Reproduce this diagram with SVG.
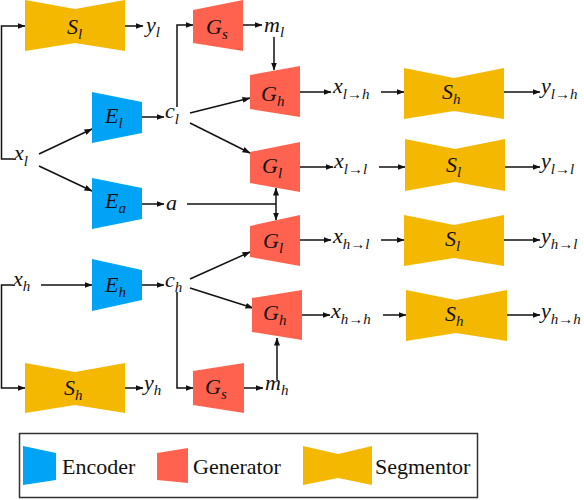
<svg xmlns="http://www.w3.org/2000/svg" width="584" height="500" viewBox="0 0 584 500">
<defs>
<marker id="ah" markerUnits="userSpaceOnUse" markerWidth="8" markerHeight="6" refX="7.5" refY="3" orient="auto">
<path d="M0,0 L8,3 L0,6 z" fill="#111"/>
</marker>
</defs>
<style>
.enc{fill:#00A3F5}
.gen{fill:#FF6350}
.seg{fill:#F5B800}
.c path{fill:none;stroke:#111;stroke-width:1.5;marker-end:url(#ah)}
.c .nm{marker-end:none}
.m{font-family:'Liberation Serif','Times New Roman',serif;font-style:italic;font-size:22px;fill:#111}
.s{font-size:15px}
.lg{font-family:'Liberation Serif','Times New Roman',serif;font-size:22px;fill:#111}
</style>
<rect width="584" height="500" fill="#fff"/>

<g id="connectors" class="c">
<path d="M14,159 H1.5 V26 H25"/>
<path d="M125,26 H143"/>
<path d="M39,154 L92,129"/>
<path d="M39,166 L92,191"/>
<path d="M142,117 H164"/>
<path d="M177,107 V25 H193"/>
<path d="M243,25 H262"/>
<path d="M274,37 V70"/>
<path d="M190,113 L250,98"/>
<path d="M190,123 L250,153"/>
<path d="M142,204 H164"/>
<path class="nm" d="M187,204 H276"/>
<path d="M276,204 V188"/>
<path d="M276,204 V220"/>
<path d="M300,92 H331"/>
<path d="M381,92 H404"/>
<path d="M504,92 H540"/>
<path d="M300,167 H333"/>
<path d="M379,167 H405"/>
<path d="M505,167 H540"/>
<path d="M300,240 H331"/>
<path d="M381,240 H404"/>
<path d="M504,240 H540"/>
<path d="M302,315 H330"/>
<path d="M383,315 H406"/>
<path d="M507,315 H540"/>
<path d="M13,285 H1.5 V388 H25"/>
<path d="M41,285 H92"/>
<path d="M142,285 H164"/>
<path d="M190,279 L250,252"/>
<path d="M190,288 L253,308"/>
<path d="M177,292 V388 H193"/>
<path d="M125,388 H143"/>
<path d="M244,388 H263"/>
<path d="M277,380 V338"/>
</g>

<g id="S_l_top"><polygon class="seg" points="25,0 75,9 125,0 125,51 75,43 25,51"/><text class="m" x="67" y="34">S<tspan class="s" dy="5">l</tspan></text></g>
<g id="y_l"><text class="m" x="146" y="32">y<tspan class="s" dy="5">l</tspan></text></g>
<g id="x_l"><text class="m" x="14" y="160">x<tspan class="s" dy="6">l</tspan></text></g>
<g id="E_l"><polygon class="enc" points="92,92 142,102 142,133 92,143"/><text class="m" x="105" y="123">E<tspan class="s" dy="5">l</tspan></text></g>
<g id="c_l"><text class="m" x="165" y="118">c<tspan class="s" dy="6">l</tspan></text></g>
<g id="E_a"><polygon class="enc" points="92,178 142,188 142,219 92,229"/><text class="m" x="105" y="208">E<tspan class="s" dy="5">a</tspan></text></g>
<g id="a"><text class="m" x="166" y="210">a</text></g>
<g id="G_s_top"><polygon class="gen" points="193,10 243,0 243,51 193,43"/><text class="m" x="206" y="34">G<tspan class="s" dy="5">s</tspan></text></g>
<g id="m_l"><text class="m" x="264" y="32">m<tspan class="s" dy="5">l</tspan></text></g>
<g id="G_h_top"><polygon class="gen" points="250,75 300,66 300,117 250,109"/><text class="m" x="261" y="101">G<tspan class="s" dy="5">h</tspan></text></g>
<g id="G_l_upper"><polygon class="gen" points="250,152 300,142 300,192 250,183"/><text class="m" x="262" y="173">G<tspan class="s" dy="5">l</tspan></text></g>
<g id="G_l_lower"><polygon class="gen" points="250,226 300,215 300,266 250,257"/><text class="m" x="263" y="248">G<tspan class="s" dy="5">l</tspan></text></g>
<g id="G_h_lower"><polygon class="gen" points="252,298 302,290 302,340 252,332"/><text class="m" x="263" y="320">G<tspan class="s" dy="5">h</tspan></text></g>
<g id="G_s_lower"><polygon class="gen" points="193,371 244,363 244,413 193,405"/><text class="m" x="205" y="394">G<tspan class="s" dy="5">s</tspan></text></g>
<g id="m_h"><text class="m" x="265" y="390">m<tspan class="s" dy="5">h</tspan></text></g>
<g id="S_h_lower"><polygon class="seg" points="25,363 75,372 125,363 125,413 75,405 25,413"/><text class="m" x="64" y="395">S<tspan class="s" dy="5">h</tspan></text></g>
<g id="y_h"><text class="m" x="144" y="390">y<tspan class="s" dy="5">h</tspan></text></g>
<g id="x_h"><text class="m" x="13" y="286">x<tspan class="s" dy="5">h</tspan></text></g>
<g id="E_h"><polygon class="enc" points="92,259 142,270 142,300 92,311"/><text class="m" x="105" y="292">E<tspan class="s" dy="5">h</tspan></text></g>
<g id="c_h"><text class="m" x="165" y="287">c<tspan class="s" dy="5">h</tspan></text></g>

<g id="x_lh"><text class="m" x="333" y="93">x<tspan class="s" dy="6">l→h</tspan></text></g>
<g id="S_h_r1"><polygon class="seg" points="404,68 454,78 504,68 504,119 454,111 404,119"/><text class="m" x="442" y="99">S<tspan class="s" dy="5">h</tspan></text></g>
<g id="y_lh"><text class="m" x="541" y="93">y<tspan class="s" dy="6">l→h</tspan></text></g>

<g id="x_ll"><text class="m" x="334" y="168">x<tspan class="s" dy="6">l→l</tspan></text></g>
<g id="S_l_r2"><polygon class="seg" points="405,139 455,149 505,139 505,191 455,182 405,191"/><text class="m" x="446" y="172">S<tspan class="s" dy="5">l</tspan></text></g>
<g id="y_ll"><text class="m" x="541" y="168">y<tspan class="s" dy="6">l→l</tspan></text></g>

<g id="x_hl"><text class="m" x="333" y="243">x<tspan class="s" dy="6">h→l</tspan></text></g>
<g id="S_l_r3"><polygon class="seg" points="404,215 454,225 504,215 504,266 454,258 404,266"/><text class="m" x="445" y="246">S<tspan class="s" dy="5">l</tspan></text></g>
<g id="y_hl"><text class="m" x="541" y="243">y<tspan class="s" dy="6">h→l</tspan></text></g>

<g id="x_hh"><text class="m" x="331" y="318">x<tspan class="s" dy="6">h→h</tspan></text></g>
<g id="S_h_r4"><polygon class="seg" points="406,290 456,300 507,290 507,341 456,333 406,341"/><text class="m" x="445" y="321">S<tspan class="s" dy="5">h</tspan></text></g>
<g id="y_hh"><text class="m" x="541" y="318">y<tspan class="s" dy="6">h→h</tspan></text></g>

<g id="legend">
<rect x="19.5" y="433.5" width="458" height="64" fill="none" stroke="#333" stroke-width="1.5"/>
<polygon class="enc" points="23,446 56,453 56,480 23,485"/>
<text class="lg" x="62" y="474">Encoder</text>
<polygon class="gen" points="157,453 188,448 188,483 157,480"/>
<text class="lg" x="193" y="474">Generator</text>
<polygon class="seg" points="303,446 338,454 372,446 372,485 338,478 303,485"/>
<text class="lg" x="375" y="474">Segmentor</text>
</g>
</svg>
